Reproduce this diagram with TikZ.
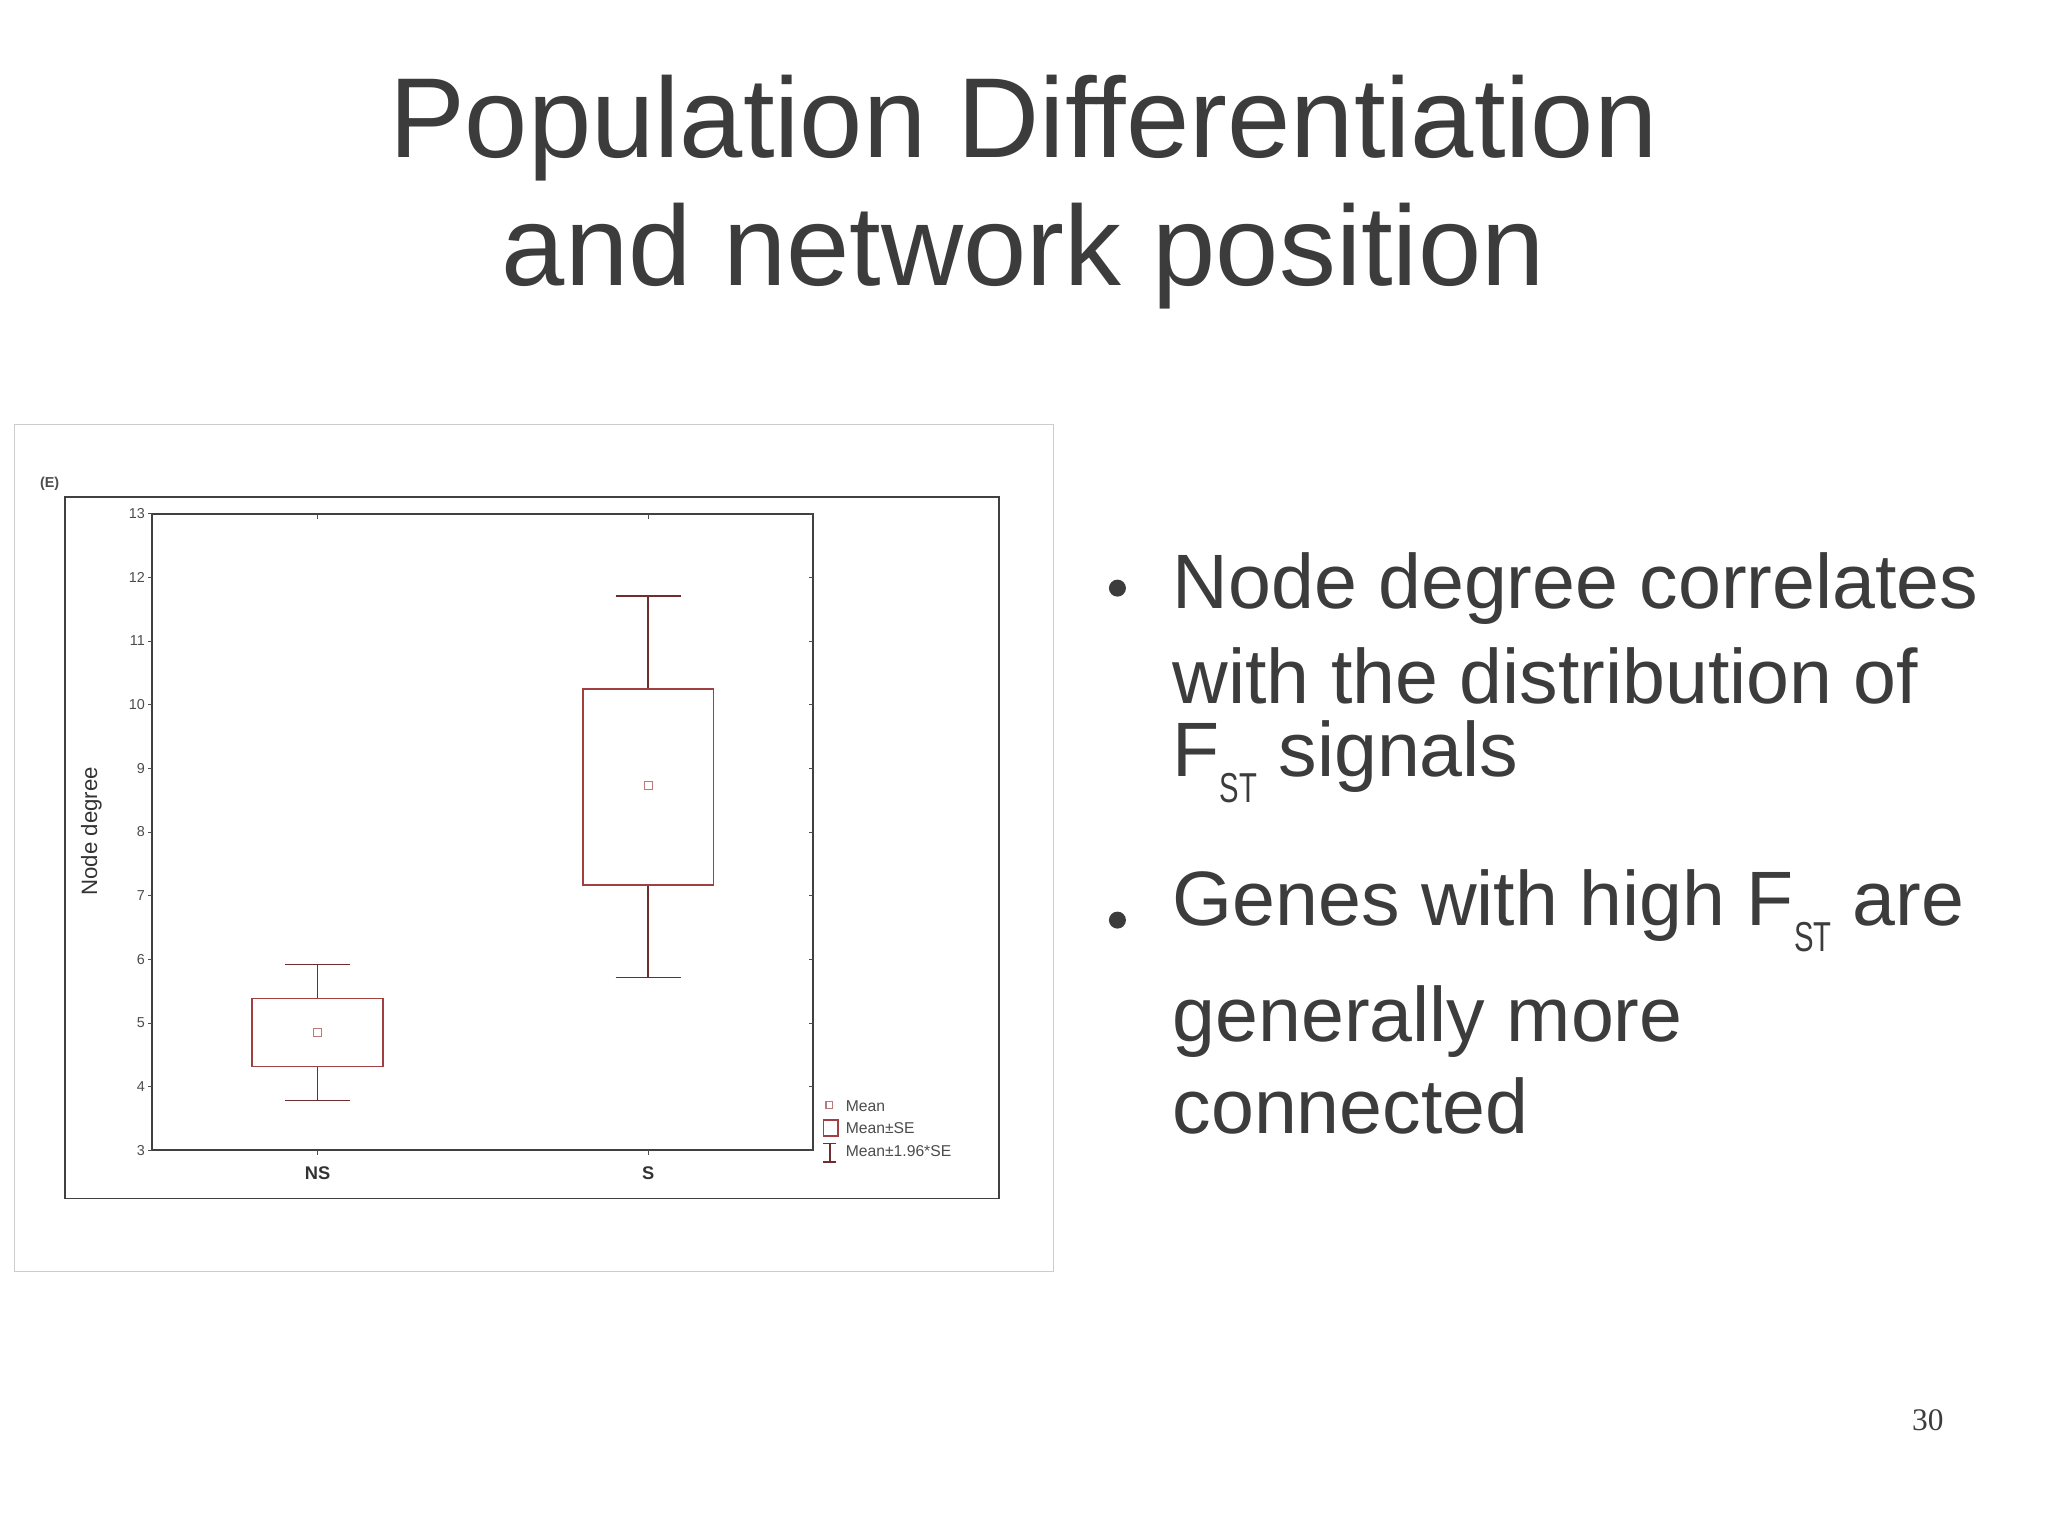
\documentclass[tikz,border=0pt]{standalone}
\usepackage{fontspec}
\setmainfont{Liberation Sans}
\newfontfamily\serifpn{Liberation Serif}
\definecolor{txt}{HTML}{3C3C3C}
\definecolor{plotred}{HTML}{A04040}
\begin{document}
\begin{tikzpicture}[x=1pt,y=-1pt,
  title/.style={text=txt,font=\fontsize{87}{98}\selectfont,align=center},
  btxt/.style={text=txt,font=\fontsize{59}{66}\selectfont,anchor=west,inner sep=0},
  tick/.style={font=\fontsize{11}{13}\selectfont,text=black!70,anchor=east,inner sep=1},
  box/.style={draw=plotred,line width=1.2},
  wh/.style={draw=plotred!70!black,line width=1.2}]
\useasboundingbox (0,0) rectangle (1567,1174.5);
\fill[white] (0,0) rectangle (1567,1174.5);
\node[title] (t) at (783,147) {Population Differentiation\\and network position};
% plot
\draw[draw=black!20,line width=1] (11,325) rectangle (806,973);
\draw[black!75,line width=1.5] (50,380) rectangle (764,917);
\draw[black!75,line width=1.5] (116,393) rectangle (622,880);
\node[font=\bfseries\fontsize{11}{13}\selectfont,text=black!70] (e) at (38,370) {(E)};
\foreach \v in {3,...,13}{
  \pgfmathsetmacro{\yy}{880-(\v-3)*48.7}
  \node[tick] at (112,\yy) {\v};
  \draw[black!70] (116,\yy) -- (113,\yy);
  \draw[black!70] (622,\yy) -- (619,\yy);
}
\draw[black!70] (243,880) -- (243,884) (496,880) -- (496,884) (243,393)--(243,397) (496,393)--(496,397);
\node[rotate=90,font=\fontsize{17}{20}\selectfont,text=black!80] (yl) at (70,636) {Node degree};
\node[font=\bfseries\fontsize{14}{16}\selectfont,text=black!80] (ns) at (243,898) {NS};
\node[font=\bfseries\fontsize{14}{16}\selectfont,text=black!80] (s) at (496,898) {S};
% NS
\draw[wh] (243,764) -- (243,738) (218,738) -- (268,738);
\draw[wh] (243,816) -- (243,842) (218,842) -- (268,842);
\draw[box] (193,764) rectangle (293,816);
\draw[plotred!70,line width=0.8] (240,787) rectangle (246,793);
% S
\draw[wh] (496,527) -- (496,456) (471,456) -- (521,456);
\draw[wh] (496,677) -- (496,748) (471,748) -- (521,748);
\draw[box] (446,527) rectangle (546,677);
\draw[plotred!70,line width=0.8] (493,598) rectangle (499,604);
% legend
\draw[plotred!70,line width=0.8] (632,843) rectangle (637,848);
\node[anchor=west,font=\fontsize{12}{14}\selectfont,text=black!70,inner sep=0] (l1) at (647,846) {Mean};
\draw[box] (630,857) rectangle (641,869);
\node[anchor=west,font=\fontsize{12}{14}\selectfont,text=black!70,inner sep=0] (l2) at (647,863) {Mean±SE};
\draw[wh] (630,875) -- (640,875) (635,875) -- (635,889) (630,889) -- (640,889);
\node[anchor=west,font=\fontsize{12}{14}\selectfont,text=black!70,inner sep=0] (l3) at (647,881) {Mean±1.96*SE};
% bullets
\fill[txt] (855,450) circle (6.5);
\fill[txt] (855,704) circle (6.5);
\node[btxt] (b1) at (897,450) {Node degree correlates};
\node[btxt] (b2) at (897,517) {with the distribution of};
\node[btxt] (b3) at (897,583) {F\raisebox{-20pt}{\fontsize{32}{32}\selectfont\addfontfeature{FakeStretch=0.7}ST} signals};
\node[btxt] (b4) at (897,697) {Genes with high F\raisebox{-20pt}{\fontsize{32}{32}\selectfont\addfontfeature{FakeStretch=0.7}ST} are};
\node[btxt] (b5) at (897,782) {generally more};
\node[btxt] (b6) at (897,846) {connected};
\node[font=\serifpn\fontsize{24}{28}\selectfont,text=txt] (pn) at (1475,1087) {30};
\end{tikzpicture}
\end{document}
